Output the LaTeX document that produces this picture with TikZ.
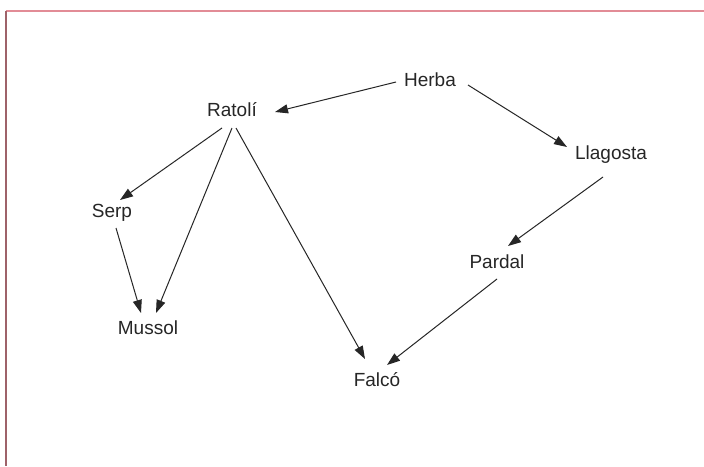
\documentclass[tikz,border=0pt]{standalone}
\usepackage{fontspec}
\setmainfont{Liberation Sans}
\usetikzlibrary{arrows.meta,calc}
\definecolor{frame}{RGB}{226,140,150}
\tikzset{
  species/.style={inner sep=0pt, font=\fontsize{19}{21}\selectfont, text=black!85},
  eats/.style={-{Triangle[length=13pt,width=9pt]}, line width=1pt, black!85}
}
\begin{document}
\begin{tikzpicture}[x=1pt,y=-1pt]
  \useasboundingbox (0,0) rectangle (704,466);
  \fill[white] (0,0) rectangle (704,466);
  % frame edges
  \draw[frame, line width=2pt] (6,11) -- (704,11);
  \draw[frame!70!black, line width=1.6pt] (6,11) -- (6,466);

  % food web
  \node[species] (herba)    at (430,80)  {Herba};
  \node[species] (ratoli)   at (232,110) {Ratolí};
  \node[species] (llagosta) at (611,155) {Llagosta};
  \node[species] (serp)     at (112,213) {Serp};
  \node[species] (pardal)   at (497,262) {Pardal};
  \node[species] (mussol)   at (148,328) {Mussol};
  \node[species] (falco)    at (377,380) {Falcó};

  \draw[eats] ($(herba)+(-34,2)$)     -- ($(ratoli)+(43,2)$);
  \draw[eats] ($(herba)+(38,5)$)      -- ($(llagosta)+(-44,-8)$);
  \draw[eats] ($(ratoli)+(-10,18)$)   -- ($(serp)+(8,-13)$);
  \draw[eats] ($(ratoli)+(0,18)$)     -- ($(mussol)+(8,-15)$);
  \draw[eats] ($(ratoli)+(4,18)$)     -- ($(falco)+(-12,-21)$);
  \draw[eats] ($(llagosta)+(-8,22)$)  -- ($(pardal)+(11,-16)$);
  \draw[eats] ($(serp)+(4,15)$)       -- ($(mussol)+(-7,-15)$);
  \draw[eats] ($(pardal)+(0,17)$)     -- ($(falco)+(10,-15)$);
\end{tikzpicture}
\end{document}
